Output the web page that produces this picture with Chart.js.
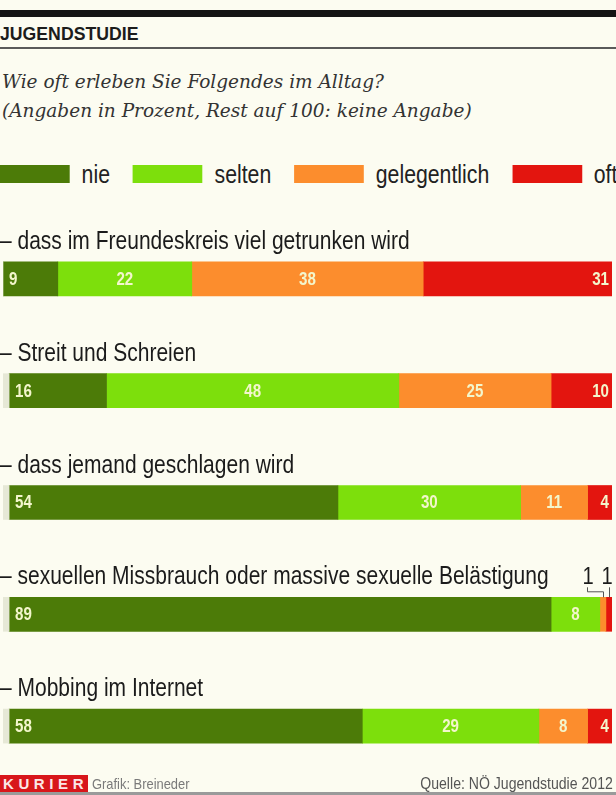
<!DOCTYPE html>
<html lang="de">
<head>
<meta charset="utf-8">
<title>Jugendstudie</title>
<script src="https://cdn.jsdelivr.net/npm/chart.js@4"></script>
<style>
  html, body { margin: 0; padding: 0; }
  body {
    width: 616px; height: 795px; overflow: hidden; position: relative;
    background: #fcfcf1;
    font-family: "Liberation Sans", Arial, sans-serif;
  }
  .topbar { position: absolute; left: 0; top: 10px; width: 616px; height: 7px; background: #141414; }
  .kicker {
    position: absolute; left: 0; top: 23px; font-weight: bold; font-size: 19px;
    color: #1c1c1c; transform: scaleX(0.93); transform-origin: left top; white-space: nowrap;
  }
  .rule { position: absolute; left: 0; top: 47px; width: 616px; height: 2px; background: #5a5a5a; }
  .sub {
    position: absolute; left: 2px; top: 67px; font-family: "DejaVu Serif", serif;
    font-style: italic; font-size: 18.5px; line-height: 29px; color: #333; white-space: nowrap;
  }
  /* Legende wird als Ganzes schmal gezogen (Schrift ist im Original condensed) */
  #legend {
    position: absolute; left: 0; top: 160px; display: flex; align-items: center; white-space: nowrap;
    transform: scaleX(0.85); transform-origin: left top;
  }
  #legend .item { display: flex; align-items: center; margin-right: 27px; }
  #legend .box { width: 82px; height: 18px; margin-right: 14px; }
  #legend .txt { font-size: 25px; color: #222; line-height: 28px; }
  .wrap { position: absolute; left: 0; top: 223px; width: 616px; height: 559px; }
  .footer { position: absolute; left: 0; top: 775px; width: 616px; height: 20px; z-index: 2; }
  .kurier {
    position: absolute; left: 0; top: 0; width: 88px; height: 18px; background: #d8161b;
    color: #fbe6e6; font-weight: bold; font-size: 15px; line-height: 18px;
    letter-spacing: 4.6px; padding-left: 3px; box-sizing: border-box; overflow: hidden; white-space: nowrap;
  }
  .grafik {
    position: absolute; left: 92px; top: 0; font-size: 15px; line-height: 18px; color: #7a7a7a;
    transform: scaleX(0.86); transform-origin: left top; white-space: nowrap;
  }
  .quelle {
    position: absolute; right: 3px; top: 0; font-size: 16px; line-height: 18px; color: #555;
    transform: scaleX(0.88); transform-origin: right top; white-space: nowrap;
  }
  .bottomline { position: absolute; left: 0; top: 792px; width: 616px; height: 3px; background: #9a9a9a; z-index: 3; }
</style>
</head>
<body>
<div class="topbar"></div>
<div class="kicker">JUGENDSTUDIE</div>
<div class="rule"></div>
<div class="sub">Wie oft erleben Sie Folgendes im Alltag?<br>(Angaben in Prozent, Rest auf 100: keine Angabe)</div>
<div id="legend"></div>
<div class="wrap"><canvas id="chart"></canvas></div>
<div class="footer">
  <div class="kurier">KURIER</div>
  <div class="grafik">Grafik: Breineder</div>
  <div class="quelle">Quelle: NÖ Jugendstudie 2012</div>
</div>
<div class="bottomline"></div>

<script>
// ===== Daten =====
const categories = [
  'dass im Freundeskreis viel getrunken wird',
  'Streit und Schreien',
  'dass jemand geschlagen wird',
  'sexuellen Missbrauch oder massive sexuelle Belästigung',
  'Mobbing im Internet'
];
const seriesNames = ['nie', 'selten', 'gelegentlich', 'oft'];
const nie          = [9, 16, 54, 89, 58];
const selten       = [22, 48, 30, 8, 29];
const gelegentlich = [38, 25, 11, 1, 8];
const oft          = [31, 10, 4, 1, 4];
const keineAngabe  = [0, 1, 1, 1, 1]; // Rest auf 100

const COLORS = ['#4c7b08', '#7ddf0c', '#fc8d2d', '#e3150f'];
const REST_COLOR = '#e6e8d6';
const VALUE_COLOR = '#f3f6cc';
const NARROW = 0.84; // horizontale Stauchung fuer die Condensed-Optik

// ===== Legende (HTML) =====
const legendEl = document.getElementById('legend');
seriesNames.forEach((name, i) => {
  const item = document.createElement('div');
  item.className = 'item';
  item.innerHTML = `<div class="box" style="background:${COLORS[i]}"></div><div class="txt">${name}</div>`;
  legendEl.appendChild(item);
});

// Text schmal gezogen zeichnen
function narrowText(ctx, text, x, y, align) {
  ctx.save();
  ctx.translate(x, y);
  ctx.scale(NARROW, 1);
  ctx.textAlign = align;
  ctx.fillText(text, 0, 0);
  ctx.restore();
}

// ===== Beschriftungen =====
const labelPlugin = {
  id: 'labels',
  afterDatasetsDraw(chart) {
    const ctx = chart.ctx;
    const yScale = chart.scales.y;
    const area = chart.chartArea;
    ctx.save();

    // Kategorietitel ueber den Balken
    ctx.font = '25px "Liberation Sans", Arial, sans-serif';
    ctx.fillStyle = '#1b1b1b';
    ctx.textBaseline = 'alphabetic';
    categories.forEach((c, i) => {
      const y = yScale.getPixelForValue(i);
      narrowText(ctx, '\u2013 ' + c, 0, y - 30, 'left');
    });

    // Werte in den Balken
    ctx.font = 'bold 18px "Liberation Sans", Arial, sans-serif';
    ctx.textBaseline = 'middle';
    ctx.fillStyle = VALUE_COLOR;
    const small = categories.map(() => []);
    chart.data.datasets.forEach((ds, di) => {
      if (ds.isRest) return;
      const meta = chart.getDatasetMeta(di);
      meta.data.forEach((bar, i) => {
        const v = ds.data[i];
        if (!v) return;
        const left = Math.min(bar.x, bar.base);
        const right = Math.max(bar.x, bar.base);
        if (v < 3) {
          small[i].push({ v, cx: (left + right) / 2, top: bar.y - bar.height / 2 });
          return;
        }
        if (ds.label === 'nie') {
          narrowText(ctx, String(v), left + 6, bar.y + 1, 'left');
        } else if (ds.label === 'oft') {
          narrowText(ctx, String(v), right - 3, bar.y + 1, 'right');
        } else {
          narrowText(ctx, String(v), (left + right) / 2, bar.y + 1, 'center');
        }
      });
    });

    // kleine Werte ueber dem Balken mit Hinweislinie
    ctx.font = '24px "Liberation Sans", Arial, sans-serif';
    ctx.fillStyle = '#1b1b1b';
    ctx.strokeStyle = '#555';
    ctx.lineWidth = 1;
    ctx.textBaseline = 'alphabetic';
    small.forEach(list => {
      const n = list.length;
      list.forEach((s, k) => {
        const lx = area.right - 5 - (n - 1 - k) * 19;
        const yText = s.top - 13;
        narrowText(ctx, String(s.v), lx, yText, 'center');
        ctx.beginPath();
        if (Math.abs(lx - s.cx) > 2) {
          ctx.moveTo(Math.round(lx) - 0.5, yText + 3);
          ctx.lineTo(Math.round(lx) - 0.5, yText + 7.5);
          ctx.lineTo(Math.round(s.cx) + 0.5, yText + 7.5);
          ctx.lineTo(Math.round(s.cx) + 0.5, s.top);
        } else {
          ctx.moveTo(Math.round(s.cx) + 0.5, yText + 3);
          ctx.lineTo(Math.round(s.cx) + 0.5, s.top);
        }
        ctx.stroke();
      });
    });
    ctx.restore();
  }
};

const datasets = [
  { label: 'keine Angabe', data: keineAngabe, backgroundColor: REST_COLOR, isRest: true }
].concat(seriesNames.map((name, i) => ({
  label: name,
  data: [nie, selten, gelegentlich, oft][i],
  backgroundColor: COLORS[i]
})));

new Chart(document.getElementById('chart'), {
  type: 'bar',
  data: { labels: categories, datasets: datasets },
  options: {
    indexAxis: 'y',
    responsive: true,
    maintainAspectRatio: false,
    animation: false,
    datasets: { bar: { barThickness: 34, borderWidth: 0, borderSkipped: false } },
    layout: { padding: { left: 3, right: 4, top: 0, bottom: 0 } },
    plugins: { legend: { display: false }, tooltip: { enabled: false } },
    scales: {
      x: { stacked: true, min: 0, max: 100, display: false },
      y: { stacked: true, display: false }
    }
  },
  plugins: [labelPlugin]
});
</script>
</body>
</html>
